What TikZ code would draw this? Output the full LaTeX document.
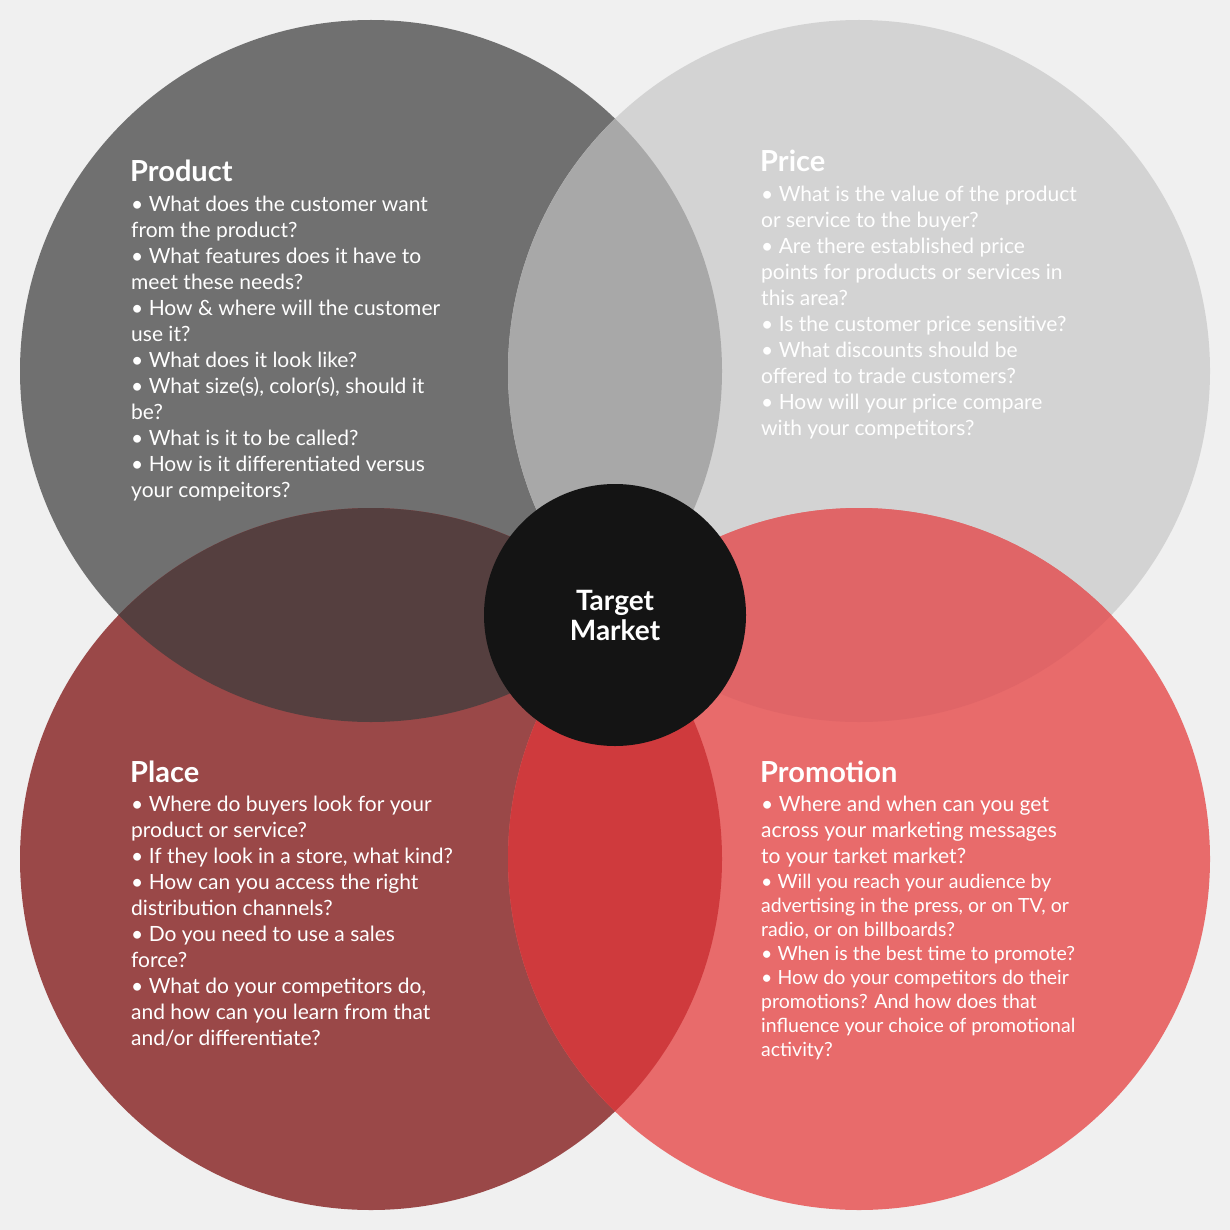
\documentclass[tikz,border=0pt]{standalone}
\usepackage{fontspec}
\setmainfont{Lato}
\begin{document}
\begin{tikzpicture}[x=1pt,y=-1pt,
  body/.style={anchor=north west,align=left,text=white,font=\fontsize{21}{26}\selectfont,inner sep=0pt},
  ttl/.style={anchor=base west,text=white,font=\fontsize{29}{34}\selectfont\bfseries,inner sep=0pt}]
\definecolor{bg}{HTML}{F0F0F0}
\definecolor{cprod}{HTML}{707070}
\definecolor{cprice}{HTML}{D3D3D3}
\definecolor{cplace}{HTML}{9A4848}
\definecolor{cpromo}{HTML}{E86B6B}
\definecolor{oPP}{HTML}{A8A8A8}
\definecolor{oPl}{HTML}{553F3F}
\definecolor{oPm}{HTML}{CF3A3D}
\definecolor{oPr}{HTML}{E06567}
\fill[bg] (0,0) rectangle (1230,1230);
\fill[cprod] (371,371) circle[radius=351];
\fill[cprice] (859,371) circle[radius=351];
\fill[cplace] (371,859) circle[radius=351];
\fill[cpromo] (859,859) circle[radius=351];
\begin{scope}\clip (371,371) circle[radius=351]; \fill[oPP] (859,371) circle[radius=351]; \fill[oPl] (371,859) circle[radius=351];\end{scope}
\begin{scope}\clip (371,859) circle[radius=351]; \fill[oPm] (859,859) circle[radius=351];\end{scope}
\begin{scope}\clip (859,371) circle[radius=351]; \fill[oPr] (859,859) circle[radius=351];\end{scope}
\node[circle,fill=black!92,minimum size=262pt,inner sep=0pt,align=center,text=white,font=\fontsize{28}{30}\selectfont\bfseries] (tm) at (615,615) {Target\\Market};
\node[ttl] (t1) at (130,182) {Product};
\node[body] (b1) at (131,196) {• What does the customer want\\from the product?\\• What features does it have to\\meet these needs?\\• How \& where will the customer\\use it?\\• What does it look like?\\• What size(s), color(s), should it\\be?\\• What is it to be called?\\• How is it differentiated versus\\your compeitors?};
\node[ttl] (t2) at (760,172) {Price};
\node[body] (b2) at (761,186) {• What is the value of the product\\or service to the buyer?\\• Are there established price\\points for products or services in\\this area?\\• Is the customer price sensitive?\\• What discounts should be\\offered to trade customers?\\• How will your price compare\\with your competitors?};
\node[ttl] (t3) at (130,782) {Place};
\node[body] (b3) at (131,796) {• Where do buyers look for your\\product or service?\\• If they look in a store, what kind?\\• How can you access the right\\distribution channels?\\• Do you need to use a sales\\force?\\• What do your competitors do,\\and how can you learn from that\\and/or differentiate?};
\node[ttl] (t4) at (760,782) {Promotion};
\node[body] (b4) at (761,796) {• Where and when can you get\\across your marketing messages\\to your tarket market?};
\node[body,font=\fontsize{19.5}{24}\selectfont] (b5) at (761,874) {• Will you reach your audience by\\advertising in the press, or on TV, or\\radio, or on billboards?\\• When is the best time to promote?\\• How do your competitors do their\\promotions? And how does that\\influence your choice of promotional\\activity?};
\end{tikzpicture}
\end{document}
